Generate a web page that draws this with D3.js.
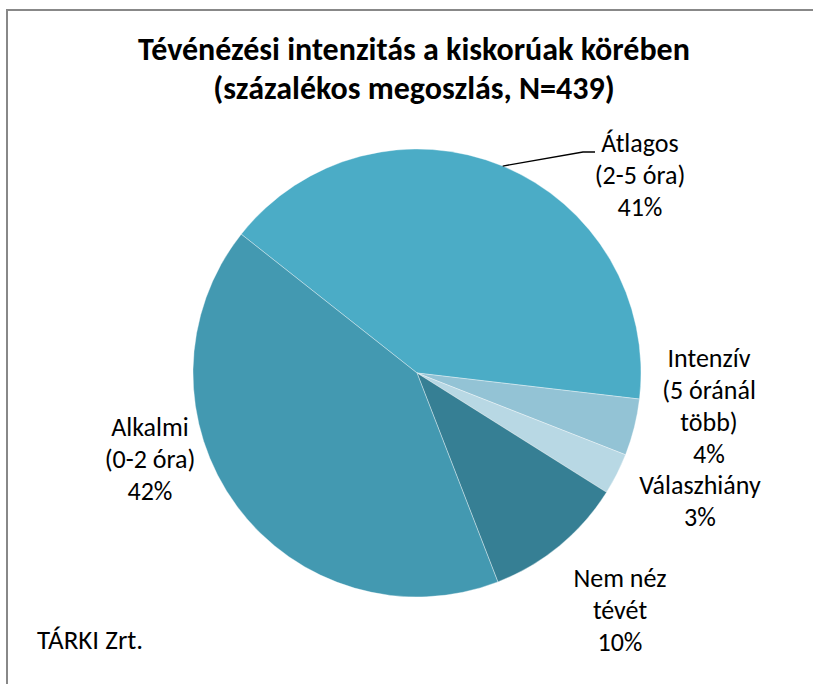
<!DOCTYPE html>
<html>
<head>
<meta charset="utf-8">
<script src="https://cdn.jsdelivr.net/npm/d3@7"></script>
<style>
  html, body { margin: 0; padding: 0; background: #fff; }
  svg { display: block; }
  text { font-family: Carlito, Calibri, Lato, "Open Sans", sans-serif; fill: #000; }
</style>
</head>
<body>
<svg id="chart" width="813" height="684"></svg>
<script>
// ---- data ----
const titleLines = ["Tévénézési intenzitás a kiskorúak körében", "(százalékos megoszlás, N=439)"];
const categories = ["Átlagos", "Intenzív", "Válaszhiány", "Nem néz", "Alkalmi"];
const labelLines = [
  ["Átlagos", "(2-5 óra)"],
  ["Intenzív", "(5 óránál", "több)"],
  ["Válaszhiány"],
  ["Nem néz", "tévét"],
  ["Alkalmi", "(0-2 óra)"]
];
const values = [41.3, 4.1, 3.0, 10.2, 41.6];
const percentLabels = ["41%", "4%", "3%", "10%", "42%"];
const colors = ["#4bacc6", "#93c3d5", "#b8d8e4", "#367f94", "#4399b1"];
const source = "TÁRKI Zrt.";

// ---- layout ----
const W = 813, H = 684;
const cx = 417, cy = 373, R = 224;
const startDeg = -51.7;
const labelPos = [ // centre x, first baseline y
  {x: 640, y: 152},
  {x: 709, y: 367},
  {x: 700, y: 494},
  {x: 620, y: 587},
  {x: 150, y: 436}
];
const lineH = 32;

const svg = d3.select("#chart");

// frame
svg.append("path")
  .attr("d", `M7,${H} L7,10 L${W},10`)
  .attr("fill", "none").attr("stroke", "#888").attr("stroke-width", 2);

// title
const title = svg.append("text")
  .attr("text-anchor", "middle")
  .attr("font-weight", "bold")
  .attr("font-size", 32);
titleLines.forEach((t, i) => {
  title.append("tspan").attr("x", 414).attr("y", 60 + i * 39).text(t);
});

// pie
const pie = d3.pie().sort(null).value(d => d)
  .startAngle(startDeg * Math.PI / 180)
  .endAngle(startDeg * Math.PI / 180 + 2 * Math.PI);
const arcs = pie(values);
const arc = d3.arc().innerRadius(0).outerRadius(R);

const g = svg.append("g").attr("transform", `translate(${cx},${cy})`);
g.selectAll("path.slice").data(arcs).enter().append("path")
  .attr("class", "slice")
  .attr("d", arc)
  .attr("fill", (d, i) => colors[i])
  .attr("stroke", "#ffffff")
  .attr("stroke-opacity", 0.6)
  .attr("stroke-width", 0.6);

// leader line for first slice (Átlagos)
{
  const d = arcs[0];
  const a = (d.startAngle + d.endAngle) / 2;
  const p0 = [cx + R * Math.sin(a), cy - R * Math.cos(a)];
  const p2 = [labelPos[0].x - 45, labelPos[0].y];
  const p1 = [p2[0] - 12, p2[1]];
  svg.append("polyline")
    .attr("points", [p0, p1, p2].map(p => p.join(",")).join(" "))
    .attr("fill", "none").attr("stroke", "#000").attr("stroke-width", 1.3);
}

// labels
arcs.forEach((d, i) => {
  const lines = labelLines[i].concat([percentLabels[i]]);
  const t = svg.append("text")
    .attr("text-anchor", "middle")
    .attr("font-size", 26);
  lines.forEach((l, j) => {
    t.append("tspan").attr("x", labelPos[i].x).attr("y", labelPos[i].y + j * lineH).text(l);
  });
});

// source
svg.append("text").attr("x", 37).attr("y", 649).attr("font-size", 27).text(source);
</script>
</body>
</html>
